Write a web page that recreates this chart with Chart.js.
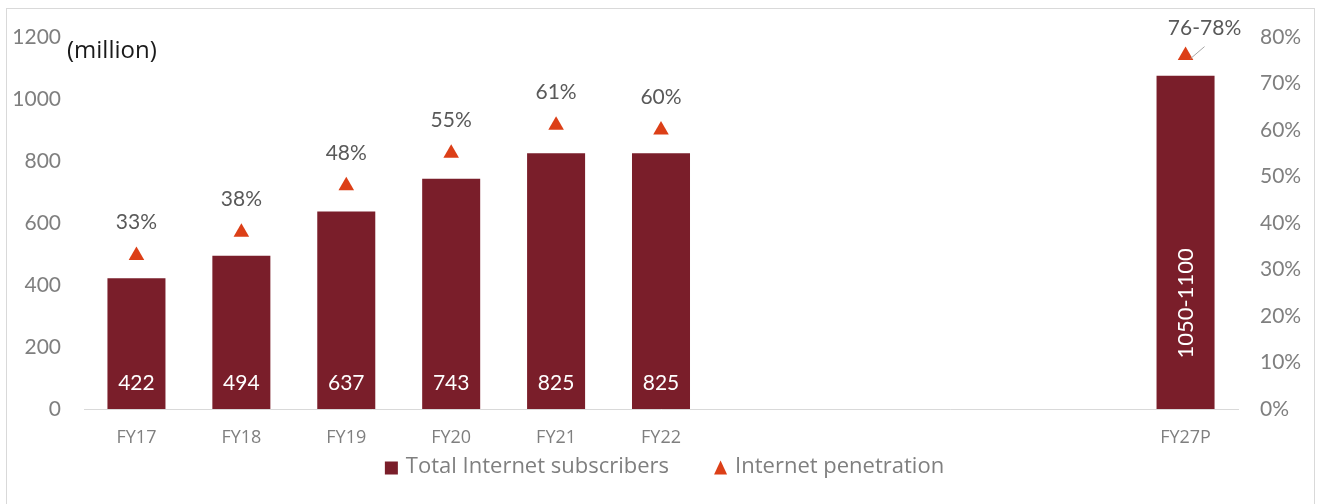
<!DOCTYPE html>
<html>
<head>
<meta charset="utf-8">
<script src="https://cdn.jsdelivr.net/npm/chart.js@4.4.1/dist/chart.umd.min.js"></script>
<style>
  html, body { margin: 0; padding: 0; background: #ffffff; }
  #wrap { position: relative; width: 1321px; height: 504px; overflow: hidden; }
  #frame { position: absolute; left: 6px; top: 8px; width: 1309px; height: 520px; border: 1px solid #d9d9d9; box-sizing: border-box; }
  #c { position: absolute; left: 0; top: 0; }
</style>
</head>
<body>
<div id="wrap">
  <div id="frame"></div>
  <canvas id="c" width="1321" height="504"></canvas>
</div>
<script>
// Fiscal years on the category axis (FY23-FY26 are left blank)
const categories = ['FY17', 'FY18', 'FY19', 'FY20', 'FY21', 'FY22', '', '', '', '', 'FY27P'];
// Total Internet subscribers, million
const subscribers = [422, 494, 637, 743, 825, 825, null, null, null, null, 1075];
const subscriberLabels = ['422', '494', '637', '743', '825', '825', '', '', '', '', '1050-1100'];
// Internet penetration, %
const penetration = [33, 38, 48, 55, 61, 60, null, null, null, null, 76];
const penetrationLabels = ['33%', '38%', '48%', '55%', '61%', '60%', '', '', '', '', '76-78%'];
// Axis ticks
const leftTicks = [0, 200, 400, 600, 800, 1000, 1200];
const rightTicks = [0, 10, 20, 30, 40, 50, 60, 70, 80];

const FONT = 'Lato, "Liberation Sans", sans-serif';
const FONT_WIDE = '"Open Sans", "DejaVu Sans", sans-serif';
const BAR_COLOR = '#7a1e2a';
const TRI_COLOR = '#dc3f17';

// Value labels, unit note and the legend row
const annotations = {
  id: 'annotations',
  afterDatasetsDraw(chart) {
    const ctx = chart.ctx;
    const bars = chart.getDatasetMeta(0).data;
    const pts = chart.getDatasetMeta(1).data;
    ctx.save();

    // values inside the bars
    ctx.fillStyle = '#ffffff';
    ctx.textAlign = 'center';
    ctx.textBaseline = 'middle';
    bars.forEach((b, i) => {
      const t = subscriberLabels[i];
      if (!t || subscribers[i] == null) return;
      if (i === bars.length - 1) {
        ctx.save();
        ctx.font = '22px ' + FONT;
        ctx.translate(b.x, (b.y + b.base) / 2 + 61);
        ctx.rotate(-Math.PI / 2);
        ctx.fillText(t, 0, 0);
        ctx.restore();
      } else {
        ctx.font = '21px ' + FONT;
        ctx.fillText(t, b.x, b.base - 26);
      }
    });

    // penetration labels above the markers
    ctx.fillStyle = '#595959';
    ctx.font = '21px ' + FONT;
    pts.forEach((p, i) => {
      const t = penetrationLabels[i];
      if (!t || penetration[i] == null) return;
      if (i === pts.length - 1) {
        ctx.fillText(t, p.x + 19, p.y - 27);
        ctx.strokeStyle = '#a6a6a6';
        ctx.lineWidth = 1;
        ctx.beginPath();
        ctx.moveTo(p.x + 19, p.y - 9);
        ctx.lineTo(p.x + 5, p.y + 3);
        ctx.stroke();
      } else {
        ctx.fillText(t, p.x, p.y - 33);
      }
    });

    // unit note
    ctx.fillStyle = '#1a1a1a';
    ctx.font = '24px ' + FONT_WIDE;
    ctx.textAlign = 'left';
    ctx.fillText('(million)', 67, 51);

    // legend
    ctx.font = '22px ' + FONT_WIDE;
    const t1 = 'Total Internet subscribers';
    const t2 = 'Internet penetration';
    const box = 13, gapIn = 8, gapOut = 45;
    const w = box + gapIn + ctx.measureText(t1).width + gapOut + box + gapIn + ctx.measureText(t2).width;
    let x = chart.width / 2 - w / 2 + 4;
    const y = 467;
    ctx.fillStyle = BAR_COLOR;
    ctx.fillRect(x, y - box / 2 + 1, box, box);
    x += box + gapIn;
    ctx.fillStyle = '#7f7f7f';
    ctx.fillText(t1, x, y);
    x += ctx.measureText(t1).width + gapOut;
    ctx.fillStyle = TRI_COLOR;
    ctx.beginPath();
    ctx.moveTo(x + box / 2, y - box / 2);
    ctx.lineTo(x + box, y + box / 2 + 1);
    ctx.lineTo(x, y + box / 2 + 1);
    ctx.closePath();
    ctx.fill();
    x += box + gapIn;
    ctx.fillStyle = '#7f7f7f';
    ctx.fillText(t2, x, y);
    ctx.restore();
  }
};

new Chart(document.getElementById('c'), {
  data: {
    labels: categories,
    datasets: [
      {
        type: 'bar',
        label: 'Total Internet subscribers',
        data: subscribers,
        backgroundColor: BAR_COLOR,
        yAxisID: 'y',
        categoryPercentage: 1,
        barPercentage: 0.553,
        order: 2
      },
      {
        type: 'line',
        label: 'Internet penetration',
        data: penetration,
        yAxisID: 'y1',
        showLine: false,
        pointStyle: 'triangle',
        pointRadius: 9,
        pointBackgroundColor: TRI_COLOR,
        pointBorderColor: TRI_COLOR,
        pointBorderWidth: 0,
        order: 1
      }
    ]
  },
  options: {
    responsive: false,
    animation: false,
    layout: { padding: { left: 0, right: 0, top: 37, bottom: 0 } },
    plugins: { legend: { display: false }, tooltip: { enabled: false } },
    scales: {
      x: {
        grid: { display: false, drawTicks: false },
        border: { display: true, color: '#d9d9d9', width: 1 },
        ticks: { color: '#7f7f7f', font: { family: FONT_WIDE, size: 18 }, padding: 18, autoSkip: false, maxRotation: 0 },
        afterFit(s) { s.height = 95; }
      },
      y: {
        position: 'left',
        min: 0, max: 1200,
        afterBuildTicks(s) { s.ticks = leftTicks.map(v => ({ value: v })); },
        grid: { display: false, drawTicks: false },
        border: { display: false },
        ticks: { color: '#7f7f7f', font: { family: FONT, size: 21 }, padding: 23, callback: v => String(v) },
        afterFit(s) { s.width = 84; }
      },
      y1: {
        position: 'right',
        min: 0, max: 80,
        afterBuildTicks(s) { s.ticks = rightTicks.map(v => ({ value: v })); },
        grid: { display: false, drawTicks: false },
        border: { display: false },
        ticks: { color: '#7f7f7f', font: { family: FONT, size: 21 }, padding: 22, callback: v => v + '%' },
        afterFit(s) { s.width = 83; }
      }
    }
  },
  plugins: [annotations]
});
</script>
</body>
</html>
